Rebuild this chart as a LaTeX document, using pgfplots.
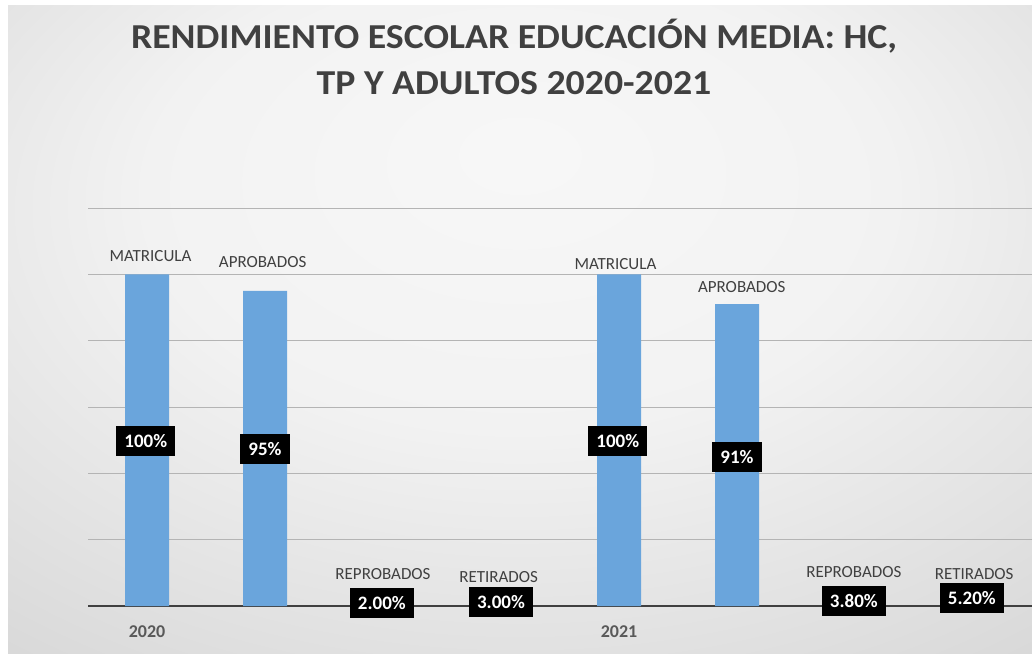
\documentclass[border=0pt]{standalone}
\usepackage{pgfplots}
\pgfplotsset{compat=1.18}
\usepackage{fontspec}
\setmainfont{Carlito}
\definecolor{barblue}{RGB}{106,165,220}
\definecolor{txtgray}{RGB}{64,64,64}
\definecolor{yeargray}{RGB}{89,89,89}
\definecolor{gridgray}{RGB}{180,180,180}
\pgfdeclareradialshading{bgshade}{\pgfpoint{0bp}{14bp}}{color(0bp)=(white!97!black); color(18bp)=(white!95!black); color(40bp)=(white!85!black); color(72bp)=(white!75!black)}
\begin{document}
\begin{tikzpicture}[x=1pt,y=1pt]
\useasboundingbox (0,0) rectangle (1032,653);
\fill[white] (0,0) rectangle (1032,653);
\shade[shading=bgshade] (8,0) rectangle (1032,647);
\node[anchor=base, font=\fontsize{35}{38}\selectfont\bfseries, text=txtgray, inner sep=0pt, xscale=1.08] at (514,604) {RENDIMIENTO ESCOLAR EDUCACIÓN MEDIA: HC,};
\node[anchor=base, font=\fontsize{35}{38}\selectfont\bfseries, text=txtgray, inner sep=0pt, xscale=1.08] at (514,558) {TP Y ADULTOS 2020-2021};
\begin{axis}[at={(88pt,47pt)}, anchor=south west, scale only axis,
  width=944pt, height=398pt,
  xmin=-0.5, xmax=7.5, ymin=0, ymax=120,
  axis line style={draw=none},
  ytick={20,40,...,120}, yticklabels={},
  ymajorgrids, grid style={gridgray, line width=0.9pt},
  extra y ticks={0}, extra y tick labels={},
  extra y tick style={grid style={draw=txtgray, line width=2pt}},
  major tick length=0pt,
  xtick={0,4}, xticklabels={2020,2021},
  xticklabel style={font=\fontsize{18}{20}\selectfont\bfseries, text=yeargray, anchor=center, yshift=-26pt},
  clip=false]
\addplot[ybar, bar width=44pt, fill=barblue, draw=none]
  coordinates {(0,100) (1,95) (2,2) (3,3) (4,100) (5,91) (6,3.8) (7,5.2)};
\addplot[draw=none, mark=none, point meta=explicit symbolic, nodes near coords,
  nodes near coords align={center},
  every node near coord/.append style={font=\fontsize{17}{19}\selectfont, text=txtgray, inner sep=0pt}]
  coordinates {(0.03,105.5) [MATRICULA] (0.98,103.7) [APROBADOS] (2.0,9.6) [REPROBADOS] (2.98,8.7) [RETIRADOS]
               (3.97,103.1) [MATRICULA] (5.04,96.2) [APROBADOS] (5.99,10.3) [REPROBADOS] (7.01,9.6) [RETIRADOS]};
\addplot[draw=none, mark=none, point meta=explicit symbolic, nodes near coords,
  nodes near coords align={center},
  every node near coord/.append style={font=\fontsize{19}{21}\selectfont\bfseries, text=white, fill=black, inner xsep=8pt, minimum height=30pt}]
  coordinates {(-0.01,49.7) [100\%] (1.0,47.3) [95\%] (1.99,0.9) [2.00\%] (3.0,1.2) [3.00\%]
               (3.99,49.7) [100\%] (5.0,44.9) [91\%] (5.99,1.5) [3.80\%] (6.99,2.4) [5.20\%]};
\end{axis}
\end{tikzpicture}
\end{document}
